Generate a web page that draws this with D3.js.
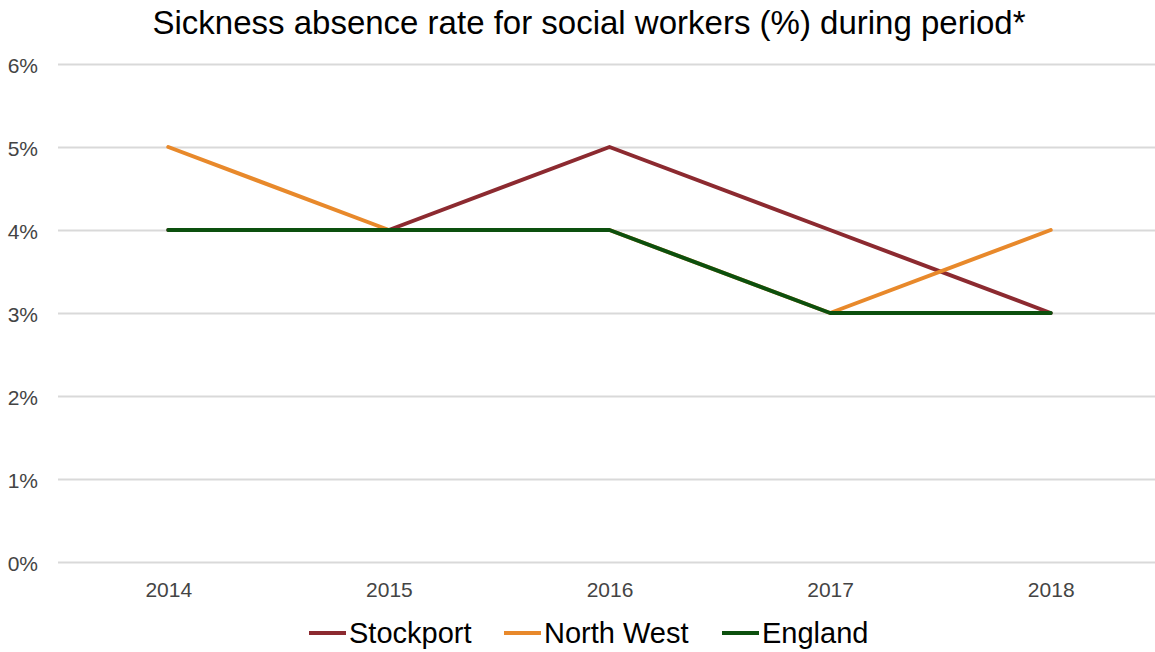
<!DOCTYPE html>
<html>
<head>
<meta charset="utf-8">
<script src="https://cdn.jsdelivr.net/npm/d3@7"></script>
<style>
  html, body { margin: 0; padding: 0; background: #fff; }
  svg { display: block; font-family: "Liberation Sans", Arial, sans-serif; }
</style>
</head>
<body>
<svg id="chart" width="1155" height="652"></svg>
<script>
// Sickness absence rate for social workers, by year
const years = ["2014", "2015", "2016", "2017", "2018"];
const stockport = [4, 4, 5, 4, 3];
const northWest = [5, 4, 4, 3, 4];
const england = [4, 4, 4, 3, 3];
const yTicks = [0, 1, 2, 3, 4, 5, 6];

const seriesNames = ["Stockport", "North West", "England"];
const seriesColors = ["#8c2a30", "#e8892b", "#0c500e"];
const seriesValues = [stockport, northWest, england];

const svg = d3.select("#chart");
const W = 1155, H = 652;

const x = d3.scalePoint().domain(years).range([58, 1161]).padding(0.5);
const y = d3.scaleLinear().domain([0, 6]).range([562, 64]);

// Title
svg.append("text")
  .attr("x", 589).attr("y", 34)
  .attr("text-anchor", "middle")
  .attr("font-size", 33)
  .attr("fill", "#000")
  .text("Sickness absence rate for social workers (%) during period*");

// Horizontal gridlines
const yAxis = d3.axisLeft(y).tickValues(yTicks)
  .tickFormat(d => d + "%").tickSize(-(W - 58)).tickPadding(20);
const gy = svg.append("g").attr("transform", "translate(58,0)").call(yAxis);
gy.select(".domain").remove();
gy.selectAll(".tick line").attr("stroke", "#d9d9d9").attr("stroke-width", 2);
gy.selectAll(".tick text").attr("font-size", 21).attr("fill", "#444")
  .attr("dy", "0.42em")
  .attr("font-family", "'Liberation Sans', Arial, sans-serif");

// Category axis labels
const xAxis = d3.axisBottom(x).tickSize(0).tickPadding(20);
const gx = svg.append("g").attr("transform", "translate(0,562)").call(xAxis);
gx.select(".domain").remove();
gx.selectAll(".tick text").attr("font-size", 21).attr("fill", "#444")
  .attr("font-family", "'Liberation Sans', Arial, sans-serif");

// Series lines
const line = d3.line().x((d, i) => x(years[i])).y(d => y(d));
seriesValues.forEach((vals, k) => {
  svg.append("path")
    .datum(vals)
    .attr("d", line)
    .attr("fill", "none")
    .attr("stroke", seriesColors[k])
    .attr("stroke-width", 4)
    .attr("stroke-linejoin", "round")
    .attr("stroke-linecap", "round");
});

// Legend
const legendX = [309, 504, 722];
const legend = svg.append("g");
seriesNames.forEach((name, k) => {
  const g = legend.append("g").attr("transform", `translate(${legendX[k]},633)`);
  g.append("line").attr("x1", 0).attr("x2", 37).attr("y1", 0).attr("y2", 0)
    .attr("stroke", seriesColors[k]).attr("stroke-width", 4);
  g.append("text").attr("x", 40).attr("y", 10)
    .attr("font-size", 29).attr("fill", "#000").text(name);
});
</script>
</body>
</html>
